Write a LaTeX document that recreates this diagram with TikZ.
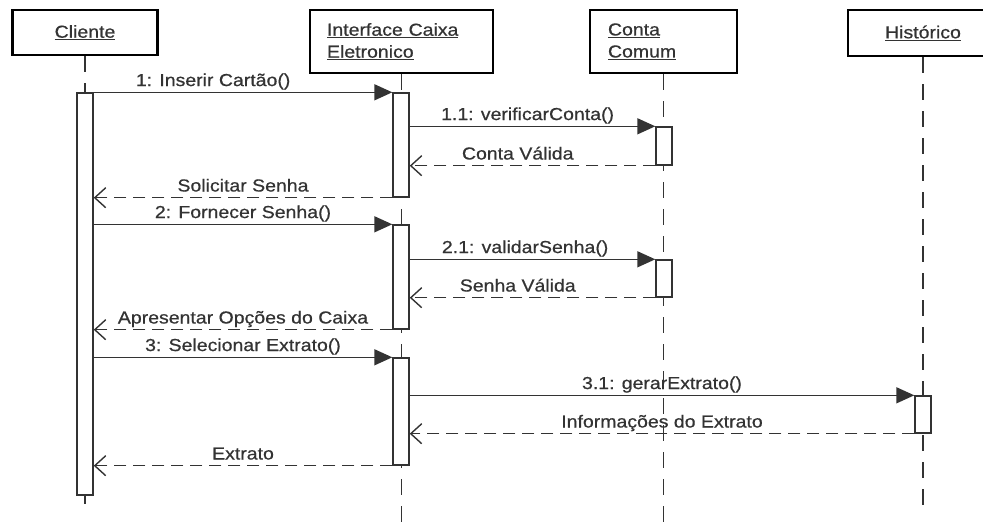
\documentclass[tikz,border=0pt]{standalone}
\usepackage{fontspec}
\setmainfont[FakeStretch=1.12,FakeBold=0.6]{Liberation Sans}
\usetikzlibrary{arrows.meta}

\begin{document}
\begin{tikzpicture}[x=1pt,y=-1pt]

% Define diagram colors
\definecolor{inkgray}{gray}{0.2}
\colorlet{linecolor}{inkgray}
\colorlet{labelcolor}{inkgray}

\useasboundingbox (0,0) rectangle (983,531);
\clip (0,0) rectangle (983,531);

\begin{scope}[font=\fontsize{17.4}{22}\selectfont, text=labelcolor,
object/.style={draw=black, line width=2.6pt, fill=white, minimum height=45pt, inner sep=0pt},
lifeline/.style={draw=linecolor, line width=1.5pt, dash pattern=on 16pt off 11pt},
activation/.style={draw=linecolor, line width=1.4pt, fill=white, minimum width=16pt, inner sep=0pt},
call/.style={draw=linecolor, line width=1.5pt, -{Triangle[length=18pt,width=16pt]}},
reply/.style={draw=linecolor, line width=1.4pt, dash pattern=on 12pt off 7pt, -{Straight Barb[length=11pt,width=20pt]}},
msg/.style={above, inner sep=3pt, text depth=0.25em}] %Use to alter the message labels

% objects
\node [object, minimum width=145pt] (cliente) at (85,32.5) {\underline{Cliente}};
\node [object, minimum width=183pt, minimum height=63pt, text width=149pt, align=left] (interface) at (401.5,41.5) {\underline{Interface Caixa}\\\underline{Eletronico}};
\node [object, minimum width=147pt, minimum height=63pt, text width=111pt, align=left] (conta) at (663.5,41.5) {\underline{Conta}\\\underline{Comum}};
\node [object, minimum width=150pt, minimum height=46pt] (historico) at (923,33) {\underline{Histórico}};

% lifelines
\coordinate (cliEnd) at (85,515);
\coordinate (bottom) at (0,531);
\coordinate (histEnd) at (923,515);
\draw [lifeline] (cliente.south) -- (cliEnd);
\draw [lifeline] (interface.south) -- (interface.south |- bottom);
\draw [lifeline] (conta.south) -- (conta.south |- bottom);
\draw [lifeline] (historico.south) -- (histEnd);

% activations
\node [activation, minimum height=402pt] (cliAct) at (85,294) {};
\node [activation, minimum height=104pt] (ifcAct1) at (401,145) {};
\node [activation, minimum height=104pt] (ifcAct2) at (401,277) {};
\node [activation, minimum height=107pt] (ifcAct3) at (401,411.5) {};
\node [activation, minimum height=38pt] (ccAct1) at (664,146) {};
\node [activation, minimum height=37pt] (ccAct2) at (664,278.5) {};
\node [activation, minimum height=37pt] (histAct) at (923,414.5) {};

% messages
\draw [call] (cliAct.north east) -- node [msg, pos=0.4] {1: Inserir Cartão()} (ifcAct1.north west);
\draw [call] (ifcAct1.east |- ccAct1.north) -- node [msg, pos=0.48] {1.1: verificarConta()} (ccAct1.north west);
\draw [reply] (ccAct1.south west) -- node [msg, pos=0.56] {Conta Válida} (ifcAct1.east |- ccAct1.south);
\draw [reply] (ifcAct1.south west) -- node [msg] {Solicitar Senha} (cliAct.east |- ifcAct1.south);
\draw [call] (cliAct.east |- ifcAct2.north) -- node [msg] {2: Fornecer Senha()} (ifcAct2.north west);
\draw [call] (ifcAct2.east |- ccAct2.north) -- node [msg, pos=0.47] {2.1: validarSenha()} (ccAct2.north west);
\draw [reply] (ccAct2.south west) -- node [msg, pos=0.56] {Senha Válida} (ifcAct2.east |- ccAct2.south);
\draw [reply] (ifcAct2.south west) -- node [msg] {Apresentar Opções do Caixa} (cliAct.east |- ifcAct2.south);
\draw [call] (cliAct.east |- ifcAct3.north) -- node [msg] {3: Selecionar Extrato()} (ifcAct3.north west);
\draw [call] (ifcAct3.east |- histAct.north) -- node [msg] {3.1: gerarExtrato()} (histAct.north west);
\draw [reply] (histAct.south west) -- node [msg] {Informações do Extrato} (ifcAct3.east |- histAct.south);
\draw [reply] (ifcAct3.south west) -- node [msg] {Extrato} (cliAct.east |- ifcAct3.south);
\end{scope}
\end{tikzpicture}
\end{document}
